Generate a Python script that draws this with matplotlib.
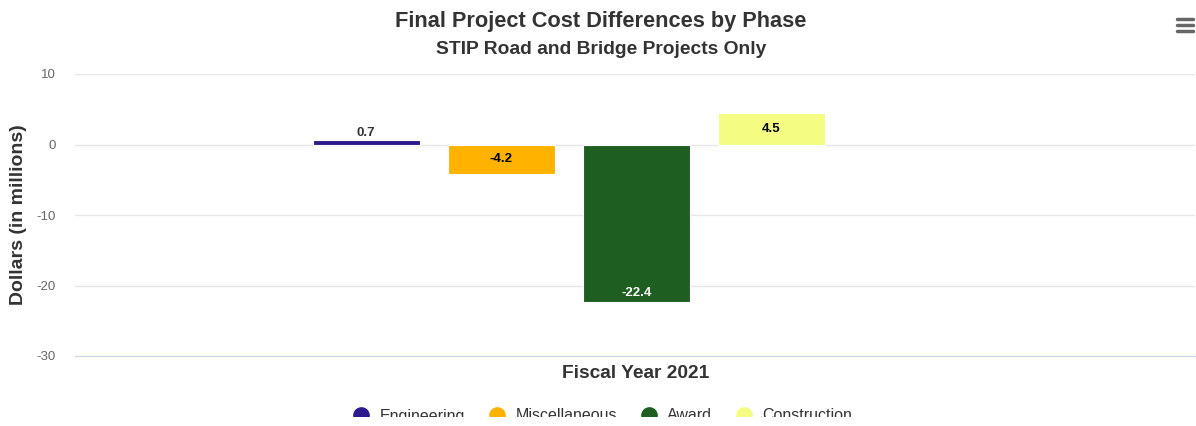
import matplotlib.pyplot as plt
from matplotlib.lines import Line2D
from matplotlib.patches import Rectangle
import numpy as np

plt.rcParams["font.family"] = ["Liberation Sans", "DejaVu Sans"]

phases = ["Engineering", "Miscellaneous", "Award", "Construction"]
values = [0.7, -4.2, -22.4, 4.5]
colors = ["#2e1a8f", "#ffb300", "#1e5e20", "#f4fd82"]
label_colors = ["#333333", "#000000", "#ffffff", "#000000"]
category = "Fiscal Year 2021"
yticks = [10, 0, -10, -20, -30]

W, H = 1196, 426
fig = plt.figure(figsize=(W / 100, H / 100), dpi=100)
# axes spans x 75..1195 px, y 74..356 px
ax = fig.add_axes([75 / W, 1 - 356 / H, 1120 / W, (356 - 74) / H])

span = 1120.0
width = 107 / span
step = 135 / span
xs = -0.24 + np.arange(len(values)) * step

ax.bar(xs, values, width=width, color=colors, edgecolor="white", linewidth=0.8, zorder=3)

for x, v, lc in zip(xs, values, label_colors):
    if 0 < v < 2:
        ax.text(x, v + 0.1, f"{v:.1f}", ha="center", va="bottom", fontsize=9.5,
                fontweight="bold", color=lc, zorder=4)
    elif v > -10:
        ax.text(x, v / 2, f"{v:.1f}", ha="center", va="center", fontsize=9.5,
                fontweight="bold", color=lc, zorder=4)
    else:
        ax.text(x, v + 0.5, f"{v:.1f}", ha="center", va="bottom", fontsize=9.5,
                fontweight="bold", color=lc, zorder=4)

ax.set_xlim(-0.5, 0.5)
ax.set_ylim(-30, 10)
ax.set_yticks(yticks)
ax.set_yticklabels([str(t) for t in yticks])
ax.set_xticks([])
ax.grid(axis="y", color="#e6e6e6", linewidth=1, zorder=0)
for s in ["top", "right", "left"]:
    ax.spines[s].set_visible(False)
ax.spines["bottom"].set_color("#ccd6eb")
ax.spines["bottom"].set_zorder(5)
ax.tick_params(axis="y", length=0, labelsize=9.5, labelcolor="#666666", pad=14)

fig.text(19 / W, 1 - 215 / H, "Dollars (in millions)", rotation=90, ha="center",
         va="center", fontsize=14, fontweight="bold", color="#333333")
fig.text(636 / W, 1 - 373 / H, category, ha="center", va="center", fontsize=13.8,
         fontweight="bold", color="#333333")

fig.text(601 / W, 1 - 21 / H, "Final Project Cost Differences by Phase", ha="center",
         va="center", fontsize=15.7, fontweight="bold", color="#333333")
fig.text(601 / W, 1 - 50 / H, "STIP Road and Bridge Projects Only", ha="center",
         va="center", fontsize=13.9, fontweight="bold", color="#333333")

# menu icon
for yy in [19, 25, 31]:
    fig.add_artist(Line2D([1177 / W, 1193 / W], [1 - yy / H, 1 - yy / H],
                          color="#666666", linewidth=2.5, solid_capstyle="round"))

handles = [Line2D([0], [0], marker="o", linestyle="", markersize=11,
                  markerfacecolor=c, markeredgecolor=c) for c in colors]
leg = fig.legend(handles, phases, loc="center", bbox_to_anchor=(599 / W, 1 - 416 / H),
                 ncol=4, frameon=False, fontsize=11.5, labelcolor="#333333",
                 handletextpad=0.15, columnspacing=1.0)

# legend is clipped at the bottom in the original
fig.add_artist(Rectangle((0, 0), 1, 9 / H, transform=fig.transFigure,
                         facecolor="white", edgecolor="none", zorder=10))

fig.savefig("out.png", dpi=100, facecolor="white")
